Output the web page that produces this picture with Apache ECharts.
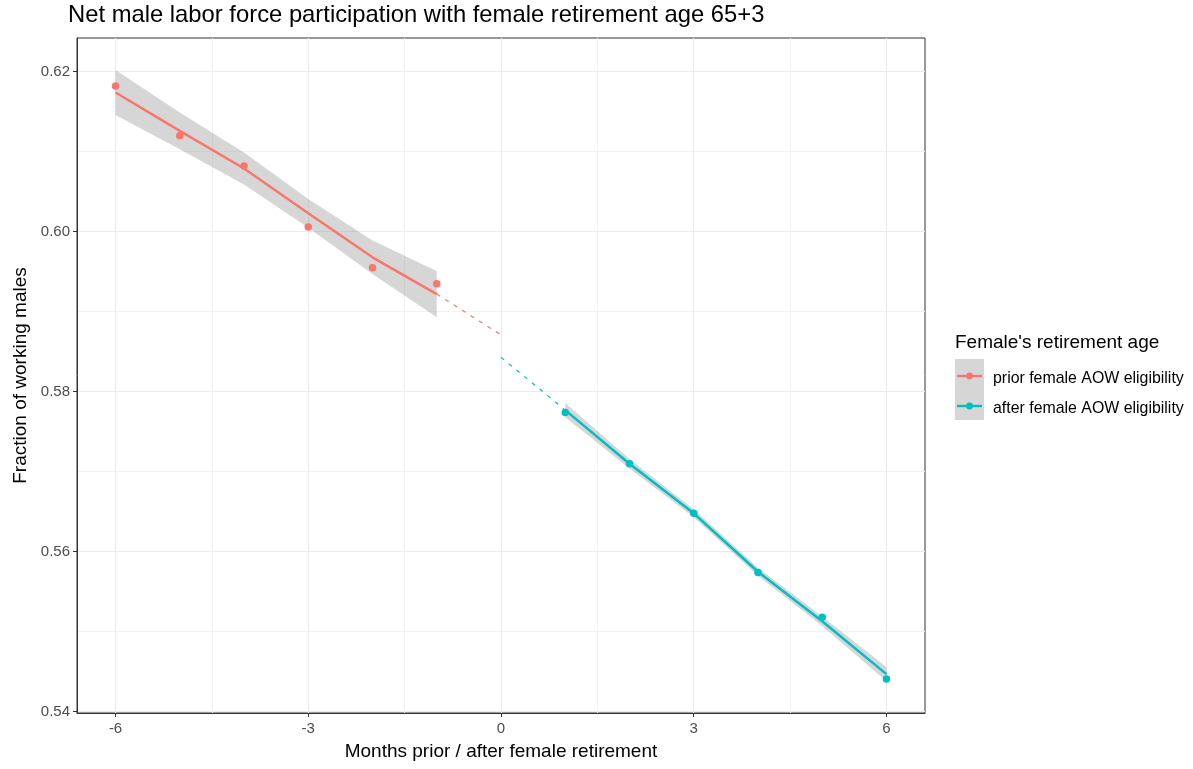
<!DOCTYPE html>
<html>
<head>
<meta charset="utf-8">
<title>Net male labor force participation</title>
<script src="https://cdn.jsdelivr.net/npm/echarts@6/dist/echarts.min.js"></script>
<style>
  html, body { margin: 0; padding: 0; background: #fff; }
  #chart { width: 1193px; height: 769px; }
</style>
</head>
<body>
<div id="chart"></div>
<script>
// Months relative to the female retirement date
var priorMonths = [-6, -5, -4, -3, -2, -1];
var afterMonths = [1, 2, 3, 4, 5, 6];

// Observed fraction of working males
var priorObserved = [0.6182, 0.6120, 0.6082, 0.6006, 0.5955, 0.5935];
var afterObserved = [0.5774, 0.5710, 0.5648, 0.5574, 0.5518, 0.5441];

// Smoothed fit with its confidence band
var priorFit   = [0.6174, 0.6126, 0.6079, 0.6023, 0.5968, 0.5922];
var priorLower = [0.6146, 0.6103, 0.6059, 0.6005, 0.5947, 0.5893];
var priorUpper = [0.6202, 0.6149, 0.6099, 0.6041, 0.5989, 0.5951];

var afterFit   = [0.5777, 0.5710, 0.5648, 0.5575, 0.5513, 0.5447];
var afterLower = [0.5768, 0.5704, 0.5643, 0.5570, 0.5507, 0.5438];
var afterUpper = [0.5786, 0.5716, 0.5653, 0.5580, 0.5519, 0.5456];

// Extrapolation of each fit towards month 0
var priorExtMonths = [-1, 0];
var priorExtValues = [0.5922, 0.5871];
var afterExtMonths = [0, 1];
var afterExtValues = [0.5843, 0.5777];

// Axis ticks
var xTicks = [-6, -3, 0, 3, 6];
var yTicks = [0.54, 0.56, 0.58, 0.60, 0.62];

var groupNames = ['prior female AOW eligibility', 'after female AOW eligibility'];
var legendTitle = "Female's retirement age";

var RED = '#F8766D';
var BLUE = '#00BFC4';
var BAND = 'rgba(153,153,153,0.4)';
var FONT = '"Liberation Sans", Arial, sans-serif';

function pairs(xs, ys) {
  return xs.map(function (x, i) { return [x, ys[i]]; });
}

function bandSeries(name, xs, lo, hi) {
  return {
    name: name,
    type: 'custom',
    silent: true,
    z: 1,
    data: xs.map(function (x, i) { return [x, lo[i], hi[i]]; }),
    encode: { x: 0, y: [1, 2] },
    renderItem: function (params, api) {
      if (params.dataIndex !== 0) return null;
      var pts = [];
      for (var i = 0; i < xs.length; i++) pts.push(api.coord([xs[i], hi[i]]));
      for (var j = xs.length - 1; j >= 0; j--) pts.push(api.coord([xs[j], lo[j]]));
      return { type: 'polygon', shape: { points: pts }, style: { fill: BAND } };
    }
  };
}

function fitSeries(name, xs, ys, color) {
  return {
    name: name, type: 'line', data: pairs(xs, ys), z: 3,
    symbol: 'none', silent: true,
    lineStyle: { color: color, width: 2.5 }
  };
}

function extSeries(name, xs, ys, color) {
  return {
    name: name, type: 'line', data: pairs(xs, ys), z: 2,
    symbol: 'none', silent: true,
    lineStyle: { color: color, width: 1.2, type: [4, 6] }
  };
}

function pointSeries(name, xs, ys, color) {
  return {
    name: name, type: 'scatter', data: pairs(xs, ys), z: 4,
    symbolSize: 7.5, silent: true,
    itemStyle: { color: color, opacity: 1 }
  };
}

var chart = echarts.init(document.getElementById('chart'), null, { renderer: 'canvas' });

var option = {
  backgroundColor: '#ffffff',
  animation: false,
  textStyle: { fontFamily: FONT },
  title: {
    text: 'Net male labor force participation with female retirement age 65+3',
    left: 68, top: 3, padding: 0,
    textStyle: { fontFamily: FONT, fontSize: 23.8, fontWeight: 'normal', color: '#000000' }
  },
  grid: {
    left: 77, right: 268, top: 38, bottom: 56,
    show: true, borderColor: '#333333', borderWidth: 1, backgroundColor: 'transparent'
  },
  xAxis: {
    type: 'value',
    min: -6.6, max: 6.6,
    minInterval: 3, maxInterval: 3,
    name: 'Months prior / after female retirement',
    nameLocation: 'middle', nameGap: 29,
    nameTextStyle: { fontFamily: FONT, fontSize: 19, color: '#000000' },
    axisLine: { show: true, onZero: false, lineStyle: { color: '#333333', width: 1 } },
    axisTick: { show: true, inside: false, length: 4, customValues: xTicks,
                lineStyle: { color: '#333333', width: 1 } },
    axisLabel: { customValues: xTicks, margin: 8, fontSize: 15, color: '#4D4D4D', fontFamily: FONT,
                 formatter: function (v) { return String(v); } },
    splitLine: { show: true, lineStyle: { color: '#EBEBEB', width: 1.1 } },
    minorTick: { show: false, splitNumber: 2 },
    minorSplitLine: { show: true, lineStyle: { color: '#F0F0F0', width: 0.9 } }
  },
  yAxis: {
    type: 'value',
    min: 0.53984, max: 0.62421,
    minInterval: 0.02, maxInterval: 0.02,
    name: 'Fraction of working males',
    nameLocation: 'middle', nameGap: 47,
    nameTextStyle: { fontFamily: FONT, fontSize: 19, color: '#000000' },
    axisLine: { show: true, onZero: false, lineStyle: { color: '#333333', width: 1 } },
    axisTick: { show: true, inside: false, length: 4, customValues: yTicks,
                lineStyle: { color: '#333333', width: 1 } },
    axisLabel: { customValues: yTicks, margin: 7, fontSize: 15, color: '#4D4D4D', fontFamily: FONT,
                 formatter: function (v) { return v.toFixed(2); } },
    splitLine: { show: true, lineStyle: { color: '#EBEBEB', width: 1.1 } },
    minorTick: { show: false, splitNumber: 2 },
    minorSplitLine: { show: true, lineStyle: { color: '#F0F0F0', width: 0.9 } }
  },
  series: [
    bandSeries('priorBand', priorMonths, priorLower, priorUpper),
    bandSeries('afterBand', afterMonths, afterLower, afterUpper),
    extSeries('priorExt', priorExtMonths, priorExtValues, RED),
    extSeries('afterExt', afterExtMonths, afterExtValues, BLUE),
    fitSeries(groupNames[0], priorMonths, priorFit, RED),
    fitSeries(groupNames[1], afterMonths, afterFit, BLUE),
    pointSeries(groupNames[0] + ' points', priorMonths, priorObserved, RED),
    pointSeries(groupNames[1] + ' points', afterMonths, afterObserved, BLUE)
  ],
  graphic: [
    { type: 'text', left: 955, top: 333,
      style: { text: legendTitle, font: '19px ' + FONT, fill: '#000000' } },
    { type: 'rect', shape: { x: 955, y: 359, width: 29, height: 61 }, style: { fill: '#D6D6D6' } },
    // key 1
    { type: 'line', shape: { x1: 957, y1: 376, x2: 982, y2: 376 }, style: { stroke: RED, lineWidth: 2.4 } },
    { type: 'circle', shape: { cx: 969.5, cy: 376, r: 3.4 }, style: { fill: RED } },
    { type: 'text', x: 993, y: 379,
      style: { text: groupNames[0], font: '15.9px ' + FONT, fill: '#000000', textVerticalAlign: 'middle' } },
    // key 2
    { type: 'line', shape: { x1: 957, y1: 406, x2: 982, y2: 406 }, style: { stroke: BLUE, lineWidth: 2.4 } },
    { type: 'circle', shape: { cx: 969.5, cy: 406, r: 3.4 }, style: { fill: BLUE } },
    { type: 'text', x: 993, y: 409,
      style: { text: groupNames[1], font: '15.9px ' + FONT, fill: '#000000', textVerticalAlign: 'middle' } }
  ]
};

chart.setOption(option);
</script>
</body>
</html>
